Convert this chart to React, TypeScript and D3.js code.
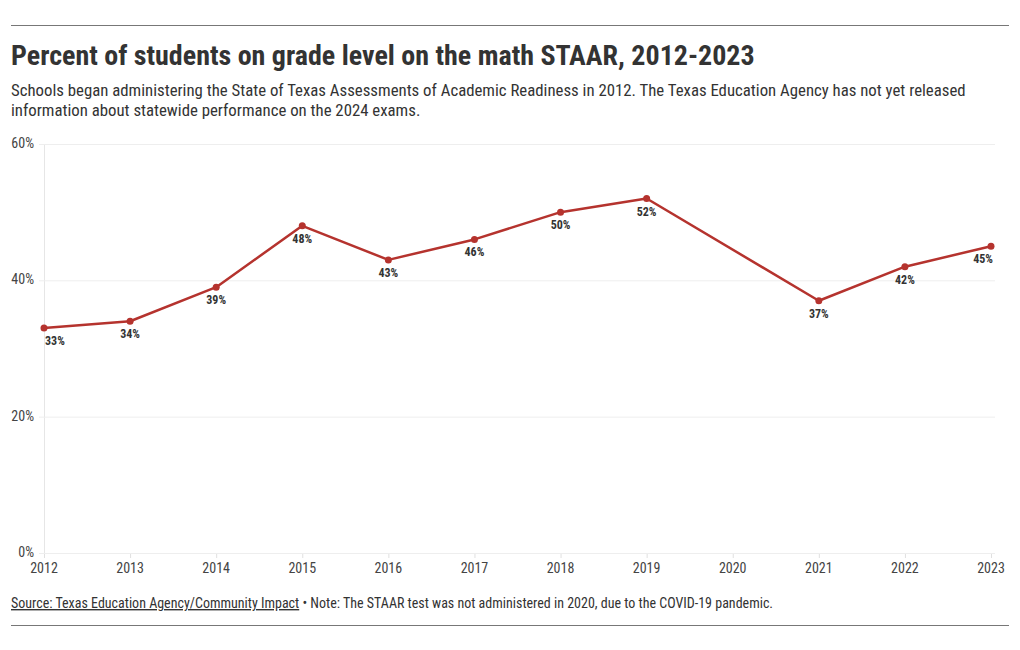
import React from "react";
import * as d3 from "d3";

const years = [2012, 2013, 2014, 2015, 2016, 2017, 2018, 2019, 2020, 2021, 2022, 2023];
const values: (number | null)[] = [33, 34, 39, 48, 43, 46, 50, 52, null, 37, 42, 45];
const yTicks = [0, 20, 40, 60];

const FONT = "'Roboto Condensed', 'Liberation Sans Narrow', 'DejaVu Sans Condensed', Roboto, sans-serif";
const W = 1020, H = 650;
const LEFT = 44, RIGHT = 991, TOP = 144, BOTTOM = 553;
const RED = "#b5332e";
const TEXT = "#333333";

export default function App() {
  const x = d3.scaleLinear().domain([2012, 2023]).range([LEFT, RIGHT]);
  const y = d3.scaleLinear().domain([0, 60]).range([BOTTOM, TOP]);
  const pts = years
    .map((yr, i) => ({ yr, v: values[i] }))
    .filter((d) => d.v !== null) as { yr: number; v: number }[];
  const line = d3.line<{ yr: number; v: number }>().x((d) => x(d.yr)).y((d) => y(d.v));
  return (
    <svg width={W} height={H} style={{ position: "absolute", left: 0, top: 0, fontFamily: FONT }}>
      <rect width={W} height={H} fill="#fff" />
      <line x1={11} x2={1009} y1={25.5} y2={25.5} stroke="#777" strokeWidth={1} />
      <text x={11} y={65} fontSize={28} fontWeight={700} fill={TEXT}>
        Percent of students on grade level on the math STAAR, 2012-2023
      </text>
      <text x={11} y={96} fontSize={16.8} fill={TEXT}>
        Schools began administering the State of Texas Assessments of Academic Readiness in 2012. The Texas Education Agency has not yet released
      </text>
      <text x={11} y={116} fontSize={16.8} fill={TEXT}>
        information about statewide performance on the 2024 exams.
      </text>
      <line x1={LEFT + 0.5} x2={LEFT + 0.5} y1={TOP} y2={BOTTOM} stroke="#e6e6e6" strokeWidth={1} />
      {years.map((yr) => (
        <line key={"vt" + yr} x1={x(yr) + 0.5} x2={x(yr) + 0.5} y1={BOTTOM} y2={BOTTOM + 5} stroke="#e0e0e0" strokeWidth={1} />
      ))}
      {yTicks.map((t) => (
        <g key={"yt" + t}>
          <line x1={LEFT - 5} x2={RIGHT + 4} y1={y(t) + 0.5} y2={y(t) + 0.5} stroke="#eeeeee" strokeWidth={1} />
          <text x={34} y={y(t) + 4} fontSize={14} textAnchor="end" fill="#444">
            {t}%
          </text>
        </g>
      ))}
      {years.map((yr) => (
        <text key={"xl" + yr} x={x(yr)} y={573} fontSize={14} textAnchor="middle" fill="#444">
          {yr}
        </text>
      ))}
      <path d={line(pts) || ""} fill="none" stroke={RED} strokeWidth={2.5} strokeLinejoin="round" />
      {pts.map((d, i) => {
        const anchor = i === 0 ? "start" : i === pts.length - 1 ? "end" : "middle";
        const dx = i === 0 ? 1 : i === pts.length - 1 ? 2 : 0;
        return (
          <g key={"p" + d.yr}>
            <circle cx={x(d.yr)} cy={y(d.v)} r={3.5} fill={RED} />
            <text x={x(d.yr) + dx} y={y(d.v) + 17} fontSize={12} fontWeight={700} textAnchor={anchor} fill={TEXT}>
              {d.v}%
            </text>
          </g>
        );
      })}
      <text x={11} y={608} fontSize={14} fill={TEXT}>
        <tspan textDecoration="underline">Source: Texas Education Agency/Community Impact</tspan>
        <tspan> • Note: The STAAR test was not administered in 2020, due to the COVID-19 pandemic.</tspan>
      </text>
      <line x1={11} x2={1009} y1={625.5} y2={625.5} stroke="#777" strokeWidth={1} />
    </svg>
  );
}
